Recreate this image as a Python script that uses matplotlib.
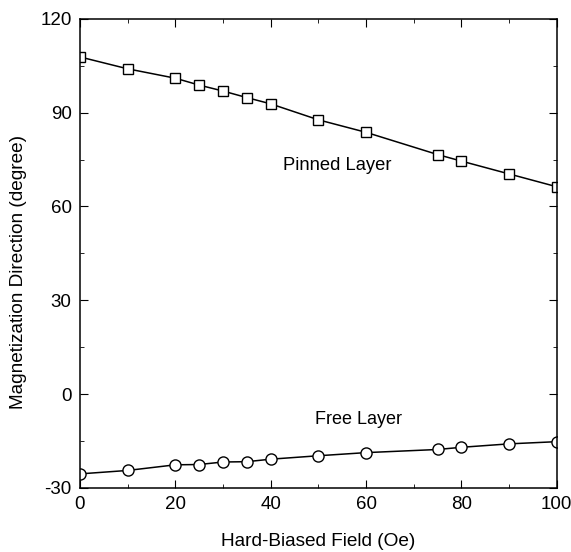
import matplotlib
matplotlib.use("Agg")
import matplotlib.pyplot as plt
from matplotlib.ticker import MultipleLocator

plt.rcParams["font.family"] = ["Liberation Sans", "DejaVu Sans"]
plt.rcParams["axes.unicode_minus"] = False

field = [0, 10, 20, 25, 30, 35, 40, 50, 60, 75, 80, 90, 100]
pinned = [107.8, 104.0, 101.0, 98.8, 96.9, 94.8, 92.8, 87.7, 83.7, 76.6, 74.5, 70.4, 66.3]
free = [-25.5, -24.4, -22.6, -22.5, -21.7, -21.6, -20.8, -19.7, -18.7, -17.7, -17.0, -15.9, -15.2]

fig = plt.figure(figsize=(5.71, 5.52), dpi=100)
ax = fig.add_axes([0.140, 0.116, 0.835, 0.850])

ax.plot(field, pinned, color="black", lw=1.1, marker="s", ms=7.5,
        mfc="white", mec="black", mew=1.0)
ax.plot(field, free, color="black", lw=1.1, marker="o", ms=8,
        mfc="white", mec="black", mew=1.0)

ax.text(54, 73, "Pinned Layer", fontsize=13.2, ha="center", va="center")
ax.text(58.5, -8, "Free Layer", fontsize=13, ha="center", va="center")

ax.set_xlim(0, 100)
ax.set_ylim(-30, 120)
ax.xaxis.set_major_locator(MultipleLocator(20))
ax.xaxis.set_minor_locator(MultipleLocator(10))
ax.yaxis.set_major_locator(MultipleLocator(30))
ax.yaxis.set_minor_locator(MultipleLocator(15))
ax.tick_params(which="both", direction="in", top=True, right=True, labelsize=13.5)
ax.tick_params(which="major", length=6, pad=6)
ax.tick_params(which="minor", length=3)
for s in ax.spines.values():
    s.set_linewidth(1.1)

ax.set_xlabel("Hard-Biased Field (Oe)", fontsize=13.7, labelpad=14)
ax.set_ylabel("Magnetization Direction (degree)", fontsize=13.7)
ax.yaxis.set_label_coords(-0.112, 0.46)

fig.savefig("out.png", dpi=100)
